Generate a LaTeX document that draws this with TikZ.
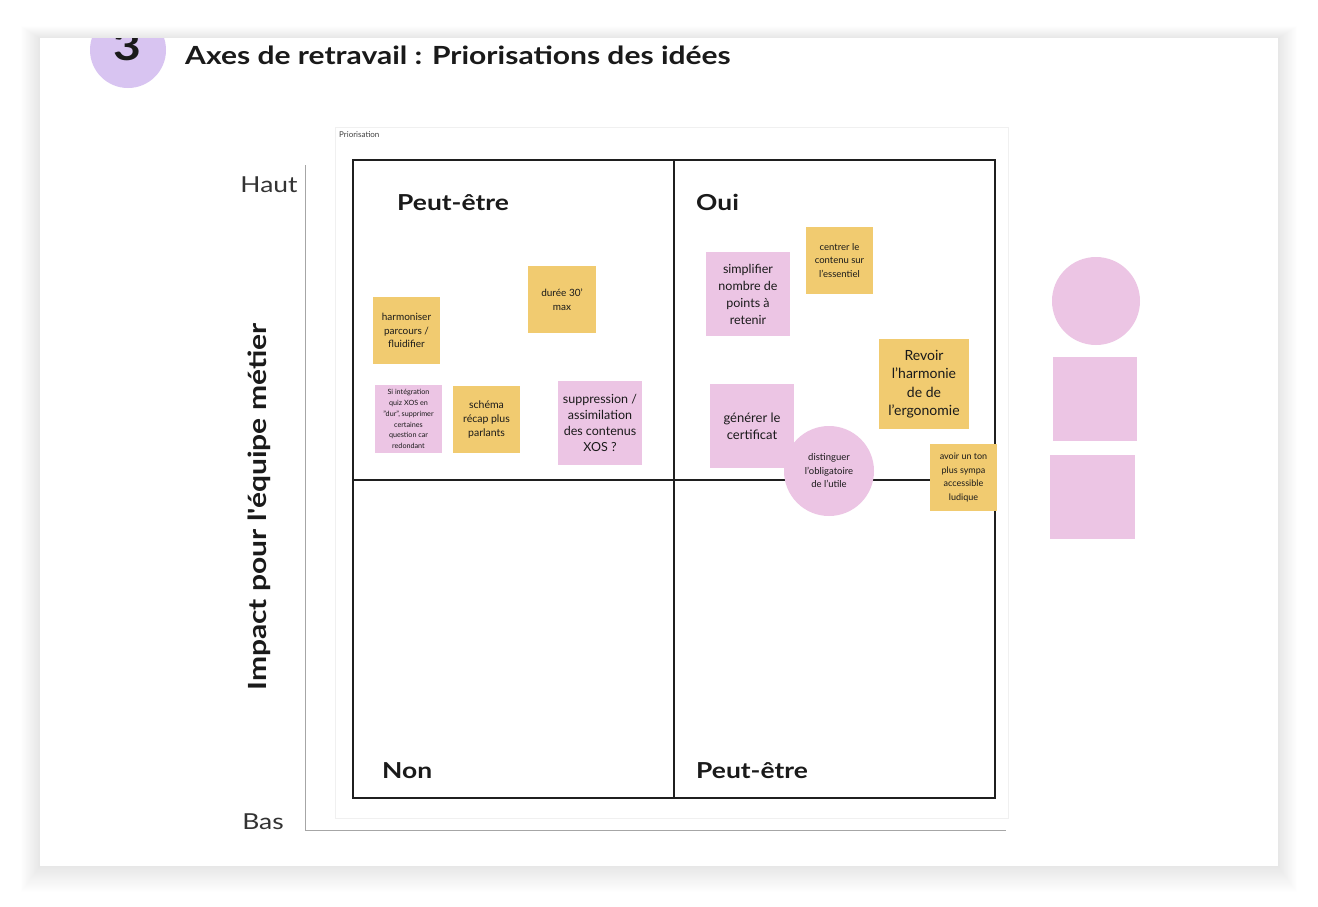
\documentclass[tikz,border=0pt]{standalone}
\usepackage{fontspec}
\setmainfont{Lato}
\setsansfont{Lato}
\newfontfamily\widefont{Lato}[FakeStretch=1.2]
\definecolor{yellowNote}{RGB}{241,203,112}
\definecolor{pinkNote}{RGB}{236,197,228}
\definecolor{lav}{RGB}{216,196,241}
\definecolor{ink}{RGB}{26,26,26}
\newcommand{\fsz}[2]{\fontsize{#1}{#2}\selectfont}
\begin{document}
\begin{tikzpicture}[x=1pt,y=-1pt,
  ynote/.style={fill=yellowNote, inner sep=0pt, align=center, text=ink},
  pnote/.style={fill=pinkNote, inner sep=0pt, align=center, text=ink},
  quadlabel/.style={anchor=base west, inner sep=0pt, text=ink, font=\widefont\bfseries\fsz{22}{26}},
  axislabel/.style={inner sep=0pt, text=black!80, font=\widefont\fsz{22}{26}},
  axisline/.style={draw=black!35, line width=0.9pt},
  gridline/.style={draw=black!88, line width=1.8pt}
]
\useasboundingbox (0,0) rectangle (1318,906);
\fill[white] (0,0) rectangle (1318,906);
% card shadow
\foreach \i in {1,...,24}{
  \fill[black, opacity=0.004] (40-\i*0.8,38-\i*0.5) rectangle (1278+\i*0.8,866+\i*1.1);
}
\fill[white] (40,38) rectangle (1278,866);
% number badge, clipped by the card
\begin{scope}
  \clip (40,38) rectangle (1278,866);
  \node[circle, fill=lav, minimum size=76pt, inner sep=0pt] (badge) at (128,50) {};
  \node[inner sep=0pt, text=ink, font=\widefont\bfseries\fsz{40}{44}] (num) at (127,46) {3};
\end{scope}
\node[anchor=base west, inner sep=0pt, text=ink, font=\widefont\bfseries\fsz{25}{28}] (title) at (185,64) {Axes de retravail : Priorisations des idées};
% board frame
\draw[draw=black!6, line width=0.8pt] (335,127) rectangle (1008,818);
\node[anchor=west, inner sep=0pt, text=black!75, font=\fsz{8}{9}] (board) at (339,135) {Priorisation};
% axes
\coordinate (axtop) at (305,165);
\coordinate (axorig) at (305,830);
\coordinate (axright) at (1006,830);
\draw[axisline] (axtop) -- (axorig) -- (axright);
\node[axislabel] (haut) at (269,185) {Haut};
\node[axislabel] (bas) at (263,822) {Bas};
\node[rotate=90, inner sep=0pt, text=ink, font=\widefont\bfseries\fsz{25}{30}] (impact) at (259,507) {Impact pour l'équipe métier};
% matrix
\coordinate (mtl) at (353,160);
\coordinate (mbr) at (995,798);
\coordinate (vtop) at (674,160);
\coordinate (vbot) at (674,798);
\coordinate (hleft) at (353,480);
\coordinate (hright) at (995,480);
\draw[gridline] (mtl) rectangle (mbr);
\draw[gridline, line width=1.4pt] (vtop) -- (vbot);
\draw[gridline, line width=1.4pt] (hleft) -- (hright);
\node[quadlabel] (q1) at (397,210) {Peut-être};
\node[quadlabel] (q2) at (696,210) {Oui};
\node[quadlabel] (q3) at (382,778) {Non};
\node[quadlabel] (q4) at (696,778) {Peut-être};
% sticky notes, left quadrant
\node[ynote, minimum width=67pt, minimum height=67pt, font=\fsz{10}{13.5}] (harm) at (406.5,330.5) {harmoniser\\parcours /\\fluidifier};
\node[ynote, minimum width=68pt, minimum height=67pt, font=\fsz{10}{13.5}] (duree) at (562,299.5) {durée 30'\\max};
\node[pnote, minimum width=67pt, minimum height=68pt, font=\fsz{7.2}{10.8}] (si) at (408.5,419) {Si intégration\\quiz XOS en\\"dur", supprimer\\certaines\\question car\\redondant};
\node[ynote, minimum width=67pt, minimum height=67pt, font=\fsz{10.5}{14}] (schema) at (486.5,419.5) {schéma\\récap plus\\parlants};
\node[pnote, minimum width=84pt, minimum height=84pt, font=\fsz{12.5}{16}] (suppr) at (600,423) {suppression /\\assimilation\\des contenus\\XOS ?};
% sticky notes, right quadrant
\node[pnote, minimum width=84pt, minimum height=84pt, font=\fsz{12.5}{17}] (simpl) at (748,294) {simplifier\\nombre de\\points à\\retenir};
\node[ynote, minimum width=67pt, minimum height=67pt, font=\fsz{9.5}{13.5}] (centrer) at (839.5,260.5) {centrer le\\contenu sur\\l'essentiel};
\node[ynote, minimum width=90pt, minimum height=90pt, font=\fsz{14}{18.5}] (revoir) at (924,384) {Revoir\\l'harmonie\\de de\\l'ergonomie};
\node[pnote, minimum width=84pt, minimum height=84pt, font=\fsz{13}{17}] (generer) at (752,426) {générer le\\certificat};
\node[pnote, circle, minimum size=90pt, font=\fsz{9.5}{13.5}] (disting) at (829,471) {distinguer\\l'obligatoire\\de l'utile};
\node[ynote, minimum width=67pt, minimum height=67pt, font=\fsz{9}{13.5}] (avoir) at (963.5,477.5) {avoir un ton\\plus sympa\\accessible\\ludique};
% spare shapes on the right
\node[pnote, circle, minimum size=88pt] (spcircle) at (1096,301) {};
\node[pnote, minimum width=84pt, minimum height=84pt] (spsq1) at (1095,399) {};
\node[pnote, minimum width=85pt, minimum height=84pt] (spsq2) at (1092.5,497) {};
\end{tikzpicture}
\end{document}
